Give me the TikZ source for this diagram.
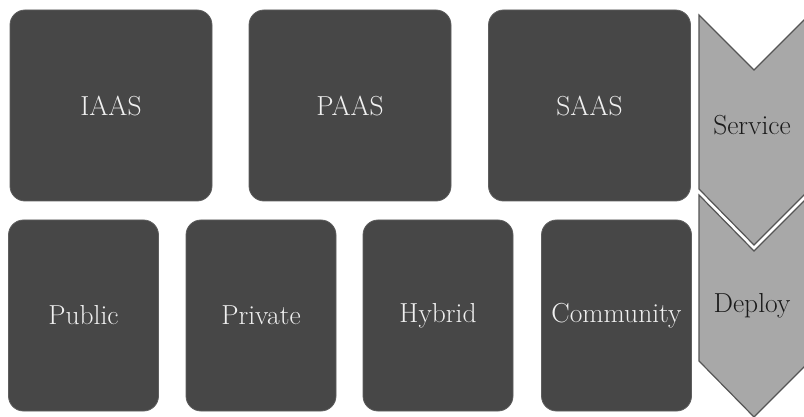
\documentclass[tikz,border=0pt]{standalone}
\usepackage{fontspec}
\definecolor{boxgray}{HTML}{474747}
\definecolor{boxedge}{HTML}{5E5E5E}
\definecolor{arrowfill}{HTML}{A8A8A8}
\definecolor{arrowedge}{HTML}{555555}
\definecolor{lighttext}{HTML}{F0F0F0}
\definecolor{darktext}{HTML}{1A1A1A}
\tikzset{
  tile/.style={rectangle, rounded corners=15pt, fill=boxgray, draw=boxedge,
    line width=0.8pt, text=lighttext, inner sep=0pt,
    font=\fontsize{27.5}{32}\selectfont},
  widetile/.style={tile, minimum width=202pt, minimum height=191pt},
  tall/.style={tile, minimum width=150pt, minimum height=191pt},
  chevron/.style={fill=arrowfill, draw=arrowedge, line width=1.2pt, line join=miter},
  chevlabel/.style={text=darktext, font=\fontsize{27.5}{32}\selectfont, inner sep=0pt}
}
\begin{document}
\begin{tikzpicture}[x=1pt, y=-1pt]
  \useasboundingbox (0,0) rectangle (804,417);
  \clip (0,0) rectangle (804,417);

  % service models
  \node[widetile] (iaas) at (111,105.5) {IAAS};
  \node[widetile] (paas) at (350,105.5) {PAAS};
  \node[widetile] (saas) at (589.5,105.5) {SAAS};

  % deployment models
  \node[tall] (public)    at (83.5,315.5)  {Public};
  \node[tall] (private)   at (261,315.5)   {Private};
  \node[tall] (hybrid)    at (438,315.5)   {Hybrid};
  \node[tall] (community) at (616.5,315.5) {Community};

  % chevron bands on the right
  \draw[chevron] (699,15) -- (754,70) -- (810,14) -- (810,189) -- (754,245) -- (699,189) -- cycle;
  \draw[chevron] (699,195) -- (754,251) -- (810,195) -- (810,361) -- (754,417) -- (699,361) -- cycle;

  \node[chevlabel, anchor=base] (service) at (752,135) {Service};
  \node[chevlabel, anchor=base] (deploy)  at (752,312) {Deploy};
\end{tikzpicture}
\end{document}
